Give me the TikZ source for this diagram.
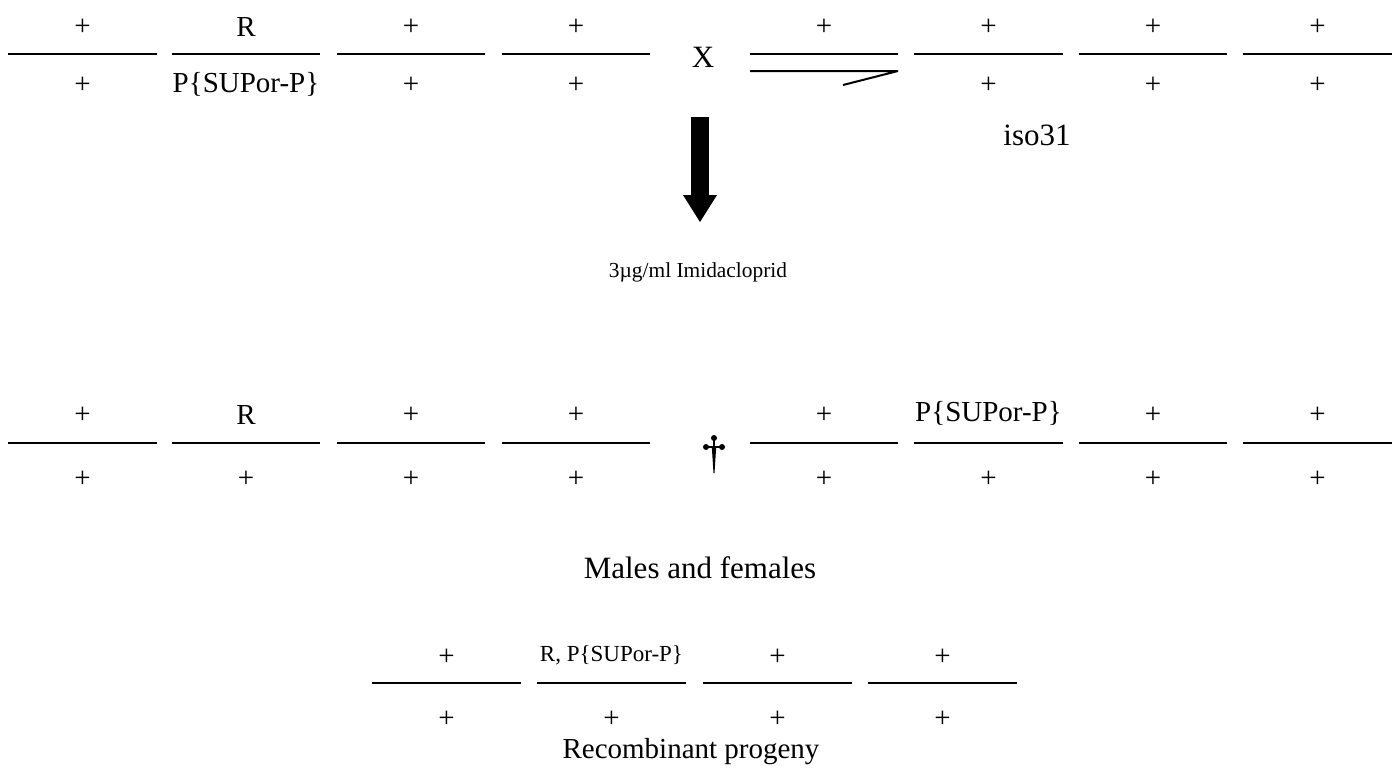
\documentclass[tikz,border=0pt]{standalone}
\usepackage{fontspec}
\setmainfont{Liberation Serif}
\begin{document}
\begin{tikzpicture}[x=1pt,y=-1pt,
  bar/.style={line width=2pt},
  lab/.style={font=\fontsize{29}{34}\selectfont, inner sep=0pt},
  big/.style={font=\fontsize{31}{36}\selectfont, inner sep=0pt},
  smalllab/.style={font=\fontsize{23}{27}\selectfont, inner sep=0pt},
  tiny/.style={font=\fontsize{21.4}{25}\selectfont, inner sep=0pt}]
\useasboundingbox (0,0) rectangle (1397,772);
% ---------- row 1 ----------
\def\ya{54}
\foreach \a/\b in {8/157,172/320,337/485,502/650,914/1063,1079/1227,1243/1392}
  \draw[bar] (\a,\ya) -- (\b,\ya);
\draw[bar] (750,\ya) -- (898,\ya);
\draw[bar, line join=bevel] (750,71) -- (898,71) -- (843,85);
\node[lab] (a1t) at (82.5,27) {+};
\node[lab] (a2t) at (246,27) {R};
\node[lab] (a3t) at (411,27) {+};
\node[lab] (a4t) at (576,27) {+};
\node[big] (cross) at (703,57) {X};
\node[lab] (a5t) at (824,27) {+};
\node[lab] (a6t) at (988.5,27) {+};
\node[lab] (a7t) at (1153,27) {+};
\node[lab] (a8t) at (1317.5,27) {+};
\node[lab] (a1b) at (82.5,85) {+};
\node[lab] (a2b) at (246,84) {P\{SUPor-P\}};
\node[lab] (a3b) at (411,85) {+};
\node[lab] (a4b) at (576,85) {+};
\node[lab] (a6b) at (988.5,85) {+};
\node[lab] (a7b) at (1153,85) {+};
\node[lab] (a8b) at (1317.5,85) {+};
\node[big] (iso) at (1037,135) {iso31};
% ---------- arrow ----------
\fill (690.7,117) rectangle (709,196);
\fill (683,195) -- (717,195) -- (700,222) -- cycle;
\node[tiny] (imi) at (698,272) {3µg/ml Imidacloprid};
% ---------- row 2 ----------
\def\yb{443}
\foreach \a/\b in {8/157,172/320,337/485,502/650,750/898,914/1063,1079/1227,1243/1392}
  \draw[bar] (\a,\yb) -- (\b,\yb);
\node[lab] (b1t) at (82.5,415) {+};
\node[lab] (b2t) at (246,415) {R};
\node[lab] (b3t) at (411,415) {+};
\node[lab] (b4t) at (576,415) {+};
\node[lab] (b5t) at (824,415) {+};
\node[lab] (b6t) at (988.5,413) {P\{SUPor-P\}};
\node[lab] (b7t) at (1153,415) {+};
\node[lab] (b8t) at (1317.5,415) {+};
\foreach \n/\x in {1/82.5,2/246,3/411,4/576,5/824,6/988.5,7/1153,8/1317.5}
  \node[lab] (b\n b) at (\x,479) {+};
% dagger
\begin{scope}[shift={(714,\yb)}]
  \fill (0,-5) circle (3);
  \fill (-8,4) circle (3);
  \fill (8,4) circle (3);
  \fill (-8,2.8) rectangle (8,5.2);
  \fill (-1.2,-5) rectangle (1.2,4);
  \fill (-2.2,4) -- (2.2,4) -- (0.5,30) -- (-0.5,30) -- cycle;
\end{scope}
\node[big] (mf) at (700,568) {Males and females};
% ---------- row 3 ----------
\def\yc{683}
\foreach \a/\b in {372/521,537/686,703/852,868/1017}
  \draw[bar] (\a,\yc) -- (\b,\yc);
\node[lab] (c1t) at (446.5,657) {+};
\node[smalllab] (c2t) at (611.5,655) {R, P\{SUPor-P\}};
\node[lab] (c3t) at (777.5,657) {+};
\node[lab] (c4t) at (942.5,657) {+};
\foreach \n/\x in {1/446.5,2/611.5,3/777.5,4/942.5}
  \node[lab] (c\n b) at (\x,719) {+};
\node[lab] (rp) at (691,752) {Recombinant progeny};
\end{tikzpicture}
\end{document}
